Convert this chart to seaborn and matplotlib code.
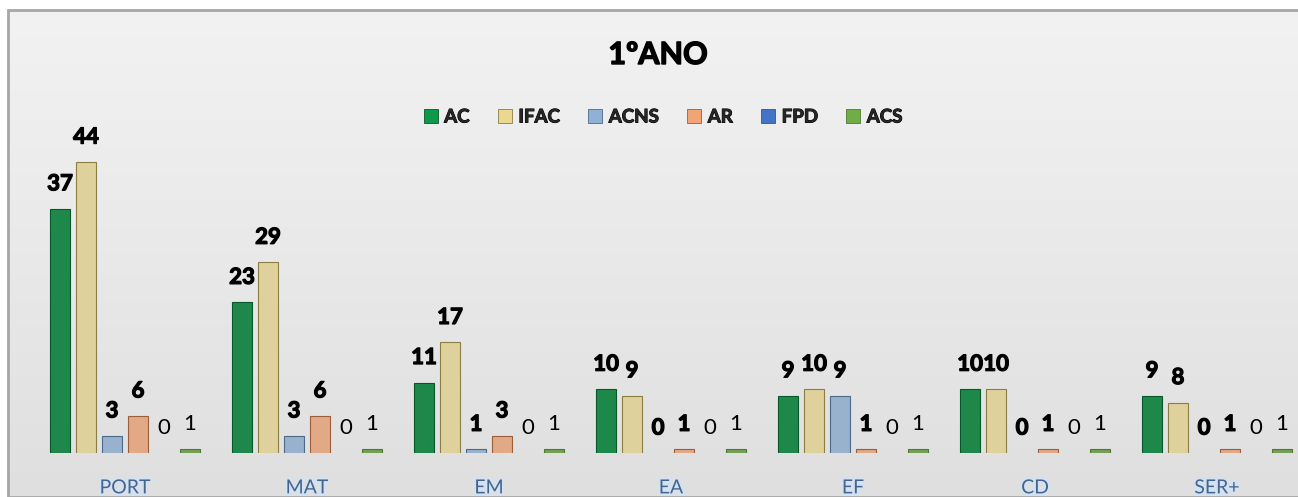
# Recreates the "1ºANO" grouped bar chart
import numpy as np
import pandas as pd
import matplotlib
matplotlib.use("Agg")
import matplotlib.pyplot as plt
import matplotlib.patheffects as pe
from matplotlib.patches import Patch, Rectangle
import seaborn as sns

# [Data]====================================================================
categories = ["PORT", "MAT", "EM", "EA", "EF", "CD", "SER+"]
series = ["AC", "IFAC", "ACNS", "AR", "FPD", "ACS"]
ac = [37, 23, 11, 10, 9, 10, 9]
ifac = [44, 29, 17, 9, 10, 10, 8]
acns = [3, 3, 1, 0, 9, 0, 0]
ar = [6, 6, 3, 1, 1, 1, 1]
fpd = [0, 0, 0, 0, 0, 0, 0]
acs = [1, 1, 1, 1, 1, 1, 1]

colors = ["#0c9a48", "#ead891", "#8fb1d6", "#f1a577", "#4472c4", "#70ad47"]
edges = ["#06582a", "#8c7d44", "#4d6a8a", "#9a5e3a", "#2f5597", "#4d7a30"]
bold_series = ["AC", "IFAC", "ACNS", "AR"]

df = pd.DataFrame({"categoria": categories * len(series),
                   "serie": np.repeat(series, len(categories)),
                   "valor": ac + ifac + acns + ar + fpd + acs})

# [Figure]==================================================================
sns.set_style("white")
plt.rcParams["font.family"] = ["Lato", "DejaVu Sans"]

W, H = 1298, 497
fig = plt.figure(figsize=(W / 100, H / 100), dpi=100)
fig.patch.set_facecolor("white")

# chart area background (light grey gradient with frame)
bg = fig.add_axes([8 / W, 0, 1.0, 1 - 10 / H], zorder=-5)
grad = np.linspace(0, 1, 256).reshape(-1, 1)
bg.imshow(grad, aspect="auto", cmap=matplotlib.colors.LinearSegmentedColormap.from_list(
    "g", ["#f2f2f2", "#e9e9e9", "#dfdfdf"]), extent=[0, 1, 0, 1])
bg.set_xlim(0, 1)
bg.set_ylim(0, 1)
bg.axis("off")
bg.add_patch(Rectangle((0, 0), 1.2, 1.0, fill=False, edgecolor="#a6a6a6",
                       linewidth=2, transform=bg.transAxes, clip_on=False))

ybase, ytop = 453, 100
ax = fig.add_axes([34 / W, (H - ybase) / H, 1274 / W, (ybase - ytop) / H])
ax.patch.set_alpha(0)

sns.barplot(data=df, x="categoria", y="valor", hue="serie", order=categories,
            hue_order=series, palette=colors, width=0.857, gap=0.22,
            legend=False, ax=ax)

px_per_unit = 6.68
ax.set_ylim(0.45, 0.45 + (ybase - ytop) / px_per_unit)
ax.set_xlim(-0.5, len(categories) - 0.5)

thick = [pe.withStroke(linewidth=0.9, foreground="black")]
for cont, name, ec in zip(ax.containers, series, edges):
    is_bold = name in bold_series
    for bar in cont:
        bar.set_edgecolor(ec)
        bar.set_linewidth(0.8)
        h = bar.get_height()
        xc = bar.get_x() + bar.get_width() / 2
        ax.annotate(f"{int(h)}", (xc, max(h, 0.45)), xytext=(0, 25),
                    textcoords="offset pixels", ha="center", va="center",
                    fontsize=16, fontweight="bold" if is_bold else "normal",
                    color="black", annotation_clip=False,
                    path_effects=thick if is_bold else None)

sns.despine(ax=ax, left=True, bottom=True)
ax.set_yticks([])
ax.set_xlabel("")
ax.set_ylabel("")
ax.tick_params(axis="x", length=0, pad=19)
for lbl in ax.get_xticklabels():
    lbl.set_fontsize(14)
    lbl.set_color("#46648c")
    lbl.set_path_effects([pe.withStroke(linewidth=3, foreground="#d3e2f3")])

fig.text(658 / W, 1 - 55 / H, "1ºANO", ha="center", va="center",
         fontsize=22, fontweight="bold", color="black",
         path_effects=[pe.withStroke(linewidth=1.0, foreground="black")])

handles = [Patch(facecolor=c, edgecolor=e, linewidth=0.6) for c, e in zip(colors, edges)]
fig.legend(handles, series, loc="center", bbox_to_anchor=(663 / W, 1 - 117 / H),
           ncol=6, frameon=False, handlelength=0.75, handleheight=0.75,
           handletextpad=0.35, columnspacing=1.5,
           prop={"weight": "bold", "size": 13.5})
for t in fig.legends[0].get_texts():
    t.set_path_effects([pe.withStroke(linewidth=0.7, foreground="black")])

fig.savefig("out.png", dpi=100)
